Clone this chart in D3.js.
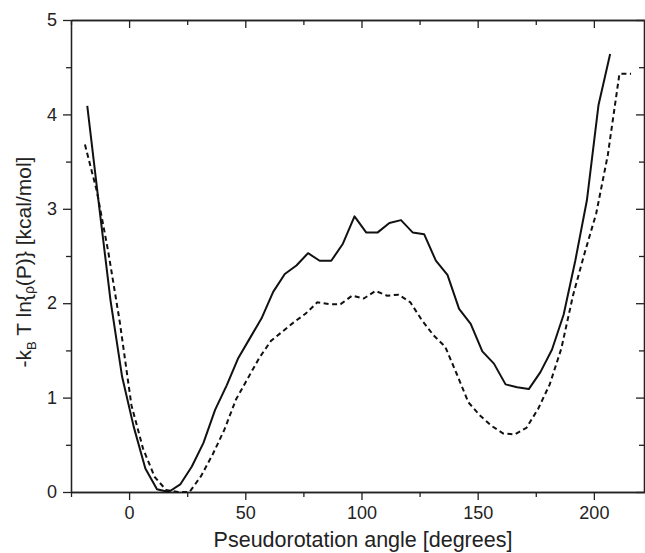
<!DOCTYPE html>
<html>
<head>
<meta charset="utf-8">
<script src="https://cdn.jsdelivr.net/npm/d3@7"></script>
<style>
  body { margin: 0; background: #fff; }
  text { font-family: "Liberation Sans", Arial, sans-serif; fill: #222; }
</style>
</head>
<body>
<script>
// solid curve
var solidAngle = [-18, -13, -8, -3, 2, 7, 12, 17, 22, 27, 32, 37, 42, 47, 52, 57, 62, 67, 72, 77, 82, 87, 92, 97,
  102, 107, 112, 117, 122, 127, 132, 137, 142, 147, 152, 157, 162, 167, 172, 177, 182, 187, 192, 197, 202, 207];
var solidEnergy = [4.09, 3.05, 2.03, 1.22, 0.69, 0.25, 0.03, 0.00, 0.08, 0.27, 0.52, 0.87, 1.13, 1.42, 1.63, 1.84,
  2.12, 2.31, 2.40, 2.53, 2.45, 2.45, 2.63, 2.92, 2.75, 2.75, 2.85, 2.88, 2.75, 2.73, 2.45, 2.30, 1.94, 1.78,
  1.49, 1.36, 1.14, 1.11, 1.09, 1.27, 1.51, 1.88, 2.45, 3.09, 4.10, 4.64];

// dashed curve
var dashAngle = [-19, -14, -9, -4, 1, 6, 11, 16, 21, 26, 31, 36, 41, 46, 51, 56, 61, 66, 71, 76, 81, 86, 91, 96,
  101, 106, 111, 116, 121, 126, 131, 136, 141, 146, 151, 156, 161, 166, 171, 176, 181, 186, 191, 196, 201, 206, 211, 216];
var dashEnergy = [3.68, 3.20, 2.55, 1.80, 0.92, 0.46, 0.16, 0.02, 0.00, 0.00, 0.17, 0.40, 0.66, 0.98, 1.20, 1.42,
  1.60, 1.70, 1.80, 1.89, 2.01, 1.99, 1.99, 2.08, 2.05, 2.13, 2.08, 2.09, 2.01, 1.82, 1.66, 1.54, 1.25, 0.95,
  0.81, 0.70, 0.62, 0.61, 0.68, 0.88, 1.14, 1.52, 2.08, 2.53, 2.95, 3.57, 4.43, 4.43];

var xTicks = [0, 50, 100, 150, 200];
var yTicks = [0, 1, 2, 3, 4, 5];

var W = 645, H = 553;
var svg = d3.select('body').append('svg').attr('width', W).attr('height', H);

var x = d3.scaleLinear().domain([-25, 222]).range([71, 645]);
var y = d3.scaleLinear().domain([0, 5]).range([492, 20]);

var axisColor = '#222';

var g = svg.append('g');

function styleAxis(sel) {
  sel.select('.domain').attr('stroke', axisColor).attr('stroke-width', 1.3);
  sel.selectAll('.tick line').attr('stroke', axisColor).attr('stroke-width', 1.3);
  sel.selectAll('.tick text').attr('font-size', 18).attr('fill', '#222')
    .attr('font-family', '"Liberation Sans", Arial, sans-serif');
}

var xMinor = d3.range(-25, 222, 25).filter(d => xTicks.indexOf(d) < 0);
var yMinor = d3.range(0.5, 5, 1);

// bottom
g.append('g').attr('transform', 'translate(0,492)')
  .call(d3.axisBottom(x).tickValues(xTicks).tickSize(8).tickPadding(6).tickSizeOuter(0))
  .call(styleAxis);
g.append('g').attr('transform', 'translate(0,492)')
  .call(d3.axisBottom(x).tickValues(xMinor).tickSize(5).tickFormat('').tickSizeOuter(0))
  .call(styleAxis);
// top mirror, ticks point into the plot
g.append('g').attr('transform', 'translate(0,20)')
  .call(d3.axisBottom(x).tickValues(xTicks).tickSize(8).tickFormat('').tickSizeOuter(0))
  .call(styleAxis);
g.append('g').attr('transform', 'translate(0,20)')
  .call(d3.axisBottom(x).tickValues(xMinor).tickSize(5).tickFormat('').tickSizeOuter(0))
  .call(styleAxis);
// left
g.append('g').attr('transform', 'translate(71,0)')
  .call(d3.axisLeft(y).tickValues(yTicks).tickSize(8).tickPadding(6).tickSizeOuter(0).tickFormat(d3.format('d')))
  .call(styleAxis);
g.append('g').attr('transform', 'translate(71,0)')
  .call(d3.axisLeft(y).tickValues(yMinor).tickSize(5).tickFormat('').tickSizeOuter(0))
  .call(styleAxis);
// right mirror
g.append('g').attr('transform', 'translate(644,0)')
  .call(d3.axisLeft(y).tickValues(yTicks).tickSize(8).tickFormat('').tickSizeOuter(0))
  .call(styleAxis);
g.append('g').attr('transform', 'translate(644,0)')
  .call(d3.axisLeft(y).tickValues(yMinor).tickSize(5).tickFormat('').tickSizeOuter(0))
  .call(styleAxis);

var line = d3.line().x(d => x(d[0])).y(d => y(d[1]));

svg.append('path')
  .attr('fill', 'none').attr('stroke', '#111').attr('stroke-width', 2)
  .attr('stroke-linejoin', 'round')
  .attr('d', line(d3.zip(solidAngle, solidEnergy)));

svg.append('path')
  .attr('fill', 'none').attr('stroke', '#111').attr('stroke-width', 2)
  .attr('stroke-dasharray', '5,3.5')
  .attr('d', line(d3.zip(dashAngle, dashEnergy)));

// axis titles
svg.append('text')
  .attr('x', 363).attr('y', 547)
  .attr('text-anchor', 'middle').attr('font-size', 21.5)
  .text('Pseudorotation angle [degrees]');

var yt = svg.append('text')
  .attr('transform', 'translate(31,262) rotate(-90)')
  .attr('text-anchor', 'middle').attr('font-size', 21);
yt.append('tspan').text('-k');
yt.append('tspan').attr('font-size', 13).attr('dy', 5).text('B');
yt.append('tspan').attr('dy', -5).text(' T ln{');
yt.append('tspan').attr('font-size', 14).attr('dy', 3).text('ρ');
yt.append('tspan').attr('dy', -3).text('(P)} [kcal/mol]');
</script>
</body>
</html>
